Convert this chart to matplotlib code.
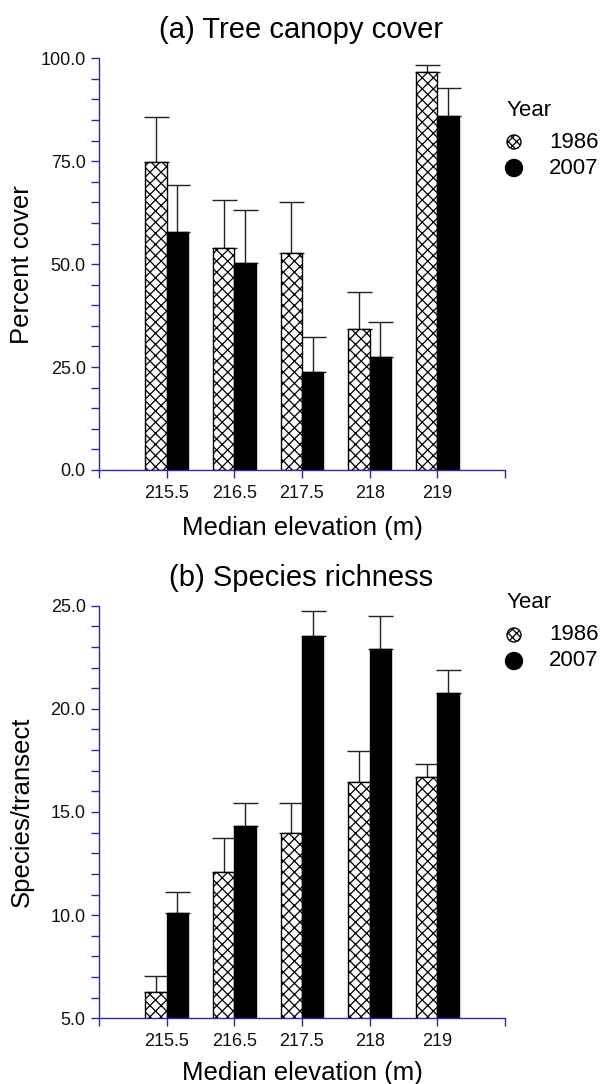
import matplotlib
matplotlib.use("Agg")
import matplotlib.pyplot as plt
from matplotlib.patches import Circle
import numpy as np

plt.rcParams['font.family'] = ['Liberation Sans', 'DejaVu Sans']
plt.rcParams['hatch.linewidth'] = 0.9

elevations = ['215.5', '216.5', '217.5', '218', '219']
years = ['1986', '2007']

canopy_1986 = [74.7, 54.0, 52.6, 34.2, 96.7]
canopy_1986_err = [11.1, 11.7, 12.5, 9.1, 1.7]
canopy_2007 = [57.9, 50.4, 23.7, 27.4, 86.0]
canopy_2007_err = [11.3, 12.8, 8.5, 8.5, 6.7]

rich_1986 = [6.29, 12.08, 14.0, 16.45, 16.68]
rich_1986_err = [0.78, 1.64, 1.42, 1.52, 0.66]
rich_2007 = [10.09, 14.34, 23.53, 22.9, 20.78]
rich_2007_err = [1.02, 1.08, 1.21, 1.6, 1.12]

AXIS_BLUE = '#2a2aa0'
W = 0.315
FW, FH = 6.03, 10.84

fig = plt.figure(figsize=(FW, FH), dpi=100)


def fy(px):
    return 1 - px / 1084


def panel(rect, v86, e86, v07, e07, ylim, major, minor, ylabel, title, title_py,
          xlabel_py, legend_px):
    ax = fig.add_axes(rect)
    x = np.arange(len(elevations))
    ax.bar(x - W / 2, v86, W, color='white', edgecolor='black',
           hatch='xxx', linewidth=1.0, zorder=2)
    ax.bar(x + W / 2, v07, W, color='black', edgecolor='black', linewidth=1.0,
           zorder=2)
    for xs, v, e in [(x - W / 2, v86, e86), (x + W / 2, v07, e07)]:
        ax.errorbar(xs, v, yerr=[np.zeros(len(x)), e], fmt='none',
                    ecolor='#222222', elinewidth=1.0, capsize=9, capthick=1.0,
                    zorder=1)
    ax.set_xlim(-1, len(elevations))
    ax.set_ylim(*ylim)
    ax.set_xticks(np.arange(-1, len(elevations) + 1))
    ax.set_xticklabels([''] + elevations + [''])
    majors = np.arange(ylim[0], ylim[1] + 0.01, major)
    ax.set_yticks(majors)
    ax.set_yticklabels([f'{v:.1f}' for v in majors])
    ax.set_yticks(np.arange(ylim[0], ylim[1] + 0.01, minor), minor=True)
    for s in ['top', 'right']:
        ax.spines[s].set_visible(False)
    for s in ['left', 'bottom']:
        ax.spines[s].set_color(AXIS_BLUE)
        ax.spines[s].set_linewidth(1.0)
    ax.tick_params(axis='both', which='both', color=AXIS_BLUE, direction='out',
                   length=5.6, width=1.0, labelsize=13, labelcolor='#111111')
    ax.tick_params(axis='y', pad=4)
    ax.tick_params(axis='x', pad=5)
    # axis labels
    l, b, w, h = rect
    fig.text(22 / 603, b + h / 2, ylabel, rotation=90, ha='center',
             va='center', fontsize=18.5)
    fig.text(l + w / 2, fy(xlabel_py), 'Median elevation (m)', ha='center',
             va='baseline', fontsize=18.5)
    fig.text(0.5, fy(title_py), title, ha='center', va='baseline',
             fontsize=21)
    # legend
    lx, ly = legend_px
    fig.text(lx / 603, fy(ly), 'Year', ha='left', va='center', fontsize=16)
    for i, (yr, fc, hatch, r) in enumerate([('1986', 'white', 'xxxx', 0.07),
                                             ('2007', 'black', None, 0.085)]):
        yy = ly + 32 + 26 * i
        c = Circle(((lx + 7.5) / 100, FH - yy / 100), r,
                   transform=fig.dpi_scale_trans, facecolor=fc,
                   edgecolor='black', hatch=hatch, linewidth=1.0)
        fig.add_artist(c)
        fig.text((lx + 42.5) / 603, fy(yy), yr, ha='left', va='center',
                 fontsize=16)
    return ax


panel([99 / 603, fy(470), 406 / 603, 411.7 / 1084], canopy_1986,
      canopy_1986_err, canopy_2007, canopy_2007_err, (0, 100), 25, 5,
      'Percent cover', '(a) Tree canopy cover', 38, 535, (506.5, 110))
panel([99 / 603, fy(1018.3), 406 / 603, 412.6 / 1084], rich_1986,
      rich_1986_err, rich_2007, rich_2007_err, (5, 25), 5, 1,
      'Species/transect', '(b) Species richness', 586, 1080, (506.5, 603))

fig.savefig('out.png', dpi=100)
